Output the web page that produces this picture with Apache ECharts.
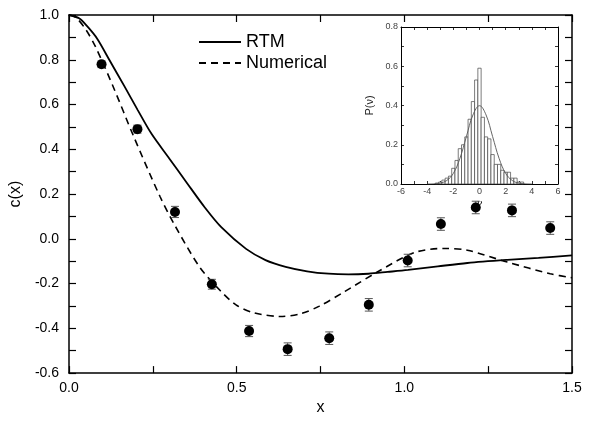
<!DOCTYPE html>
<html>
<head>
<meta charset="utf-8">
<script src="https://cdn.jsdelivr.net/npm/echarts@6/dist/echarts.min.js"></script>
<style>
html,body{margin:0;padding:0;background:#fff;}
#chart{width:595px;height:421px;}
</style>
</head>
<body>
<div id="chart"></div>
<script>
// ---- main chart data ----
const rtmX = [0, 0.03, 0.054, 0.084, 0.12, 0.165, 0.205, 0.246, 0.3, 0.35, 0.405, 0.454, 0.528, 0.586, 0.646, 0.71, 0.774, 0.833, 0.893, 0.95, 1.011, 1.1, 1.188, 1.307, 1.4, 1.5];
const rtmY = [1.0, 0.985, 0.95, 0.894, 0.80, 0.682, 0.575, 0.469, 0.357, 0.253, 0.14, 0.052, -0.045, -0.095, -0.125, -0.145, -0.156, -0.159, -0.156, -0.148, -0.139, -0.123, -0.108, -0.094, -0.085, -0.074];

const numX = [0, 0.02, 0.05, 0.08, 0.133, 0.192, 0.271, 0.316, 0.389, 0.45, 0.498, 0.55, 0.63, 0.69, 0.745, 0.823, 0.922, 1.031, 1.119, 1.188, 1.307, 1.435, 1.5];
const numY = [1.0, 0.99, 0.935, 0.855, 0.675, 0.46, 0.19, 0.059, -0.125, -0.23, -0.295, -0.33, -0.347, -0.335, -0.302, -0.235, -0.146, -0.061, -0.043, -0.051, -0.104, -0.156, -0.174];

const ptX = [0.097, 0.204, 0.316, 0.426, 0.537, 0.652, 0.776, 0.894, 1.010, 1.109, 1.213, 1.321, 1.435];
const ptY = [0.78, 0.49, 0.12, -0.203, -0.412, -0.493, -0.444, -0.295, -0.097, 0.066, 0.14, 0.127, 0.048];
const ptErr = [0.015, 0.018, 0.025, 0.022, 0.025, 0.028, 0.028, 0.028, 0.028, 0.028, 0.028, 0.028, 0.028];

// ---- inset histogram data ----
const binCenters = [-3.25, -3.0, -2.75, -2.5, -2.25, -2.0, -1.75, -1.5, -1.25, -1.0, -0.75, -0.5, -0.25, 0.0, 0.25, 0.5, 0.75, 1.0, 1.25, 1.5, 1.75, 2.0, 2.25, 2.5, 2.75, 3.0, 3.25];
const binHeights = [0.005, 0.01, 0.02, 0.03, 0.04, 0.08, 0.12, 0.18, 0.20, 0.24, 0.33, 0.42, 0.53, 0.59, 0.34, 0.24, 0.23, 0.15, 0.10, 0.10, 0.07, 0.06, 0.06, 0.03, 0.03, 0.01, 0.01];
const binWidth = 0.25;

const fitV = [-4, -3.5, -3, -2.5, -2, -1.5, -1, -0.5, 0, 0.5, 1, 1.5, 2, 2.5, 3, 3.5, 4];
const fitP = [0.0002, 0.001, 0.0045, 0.018, 0.054, 0.13, 0.242, 0.352, 0.399, 0.352, 0.242, 0.13, 0.054, 0.018, 0.0045, 0.001, 0.0002];

const mainXTicks = [0, 0.5, 1.0, 1.5];
const FONT = 'Liberation Sans, Arial, sans-serif';

const zip = (a, b) => a.map((v, i) => [v, b[i]]);

const chart = echarts.init(document.getElementById('chart'), null, {renderer: 'canvas'});

const axisLineMain = {show: true, onZero: false, lineStyle: {color: '#000', width: 1.5}};
const tickMain = {show: true, inside: true, length: 7, lineStyle: {color: '#000', width: 1.2}};
const axisLineIn = {show: true, onZero: false, lineStyle: {color: '#000', width: 1}};
const tickIn = {show: true, inside: true, length: 3, lineStyle: {color: '#000', width: 0.8}};

const option = {
  animation: false,
  backgroundColor: '#fff',
  grid: [
    {left: 65, right: 23, top: 15, bottom: 29},
    {left: 401, top: 27, width: 157, height: 157}
  ],
  legend: {
    orient: 'vertical',
    left: 193, top: 28,
    itemWidth: 42, itemHeight: 14, itemGap: 3,
    itemStyle: {opacity: 0, color: 'rgba(0,0,0,0)', borderWidth: 0},
    textStyle: {fontFamily: FONT, fontSize: 18, color: '#000'},
    data: ['RTM', 'Numerical']
  },
  xAxis: [
    {gridIndex: 0, type: 'value', position: 'bottom', min: 0, max: 1.5, interval: 0.25,
     axisLine: axisLineMain, axisTick: tickMain, splitLine: {show: false},
     axisLabel: {fontFamily: FONT, fontSize: 14, color: '#000', margin: 8,
       formatter: v => mainXTicks.some(t => Math.abs(t - v) < 1e-6) ? v.toFixed(1) : ''},
     name: 'x', nameLocation: 'middle', nameGap: 16,
     nameTextStyle: {fontFamily: FONT, fontSize: 16, color: '#000'}},
    {gridIndex: 0, type: 'value', position: 'top', min: 0, max: 1.5, interval: 0.25,
     axisLine: axisLineMain, axisTick: tickMain, splitLine: {show: false}, axisLabel: {show: false}},
    {gridIndex: 1, type: 'value', position: 'bottom', min: -6, max: 6, interval: 1,
     axisLine: axisLineIn, axisTick: tickIn, splitLine: {show: false},
     axisLabel: {fontFamily: FONT, fontSize: 9, color: '#444', margin: 3,
       formatter: v => (Math.round(v) % 2 === 0) ? String(Math.round(v)) : ''},
     name: 'ν', nameLocation: 'middle', nameGap: 15,
     nameTextStyle: {fontFamily: 'DejaVu Serif, serif', fontStyle: 'italic', fontSize: 9, color: '#000'}},
    {gridIndex: 1, type: 'value', position: 'top', min: -6, max: 6, interval: 1,
     axisLine: axisLineIn, axisTick: tickIn, splitLine: {show: false}, axisLabel: {show: false}}
  ],
  yAxis: [
    {gridIndex: 0, type: 'value', position: 'left', min: -0.6, max: 1.0, interval: 0.1,
     axisLine: axisLineMain, axisTick: tickMain, splitLine: {show: false},
     axisLabel: {fontFamily: FONT, fontSize: 14, color: '#000', margin: 10,
       formatter: v => (Math.abs(Math.round(v * 10)) % 2 === 0) ? v.toFixed(1) : ''},
     name: 'c(x)', nameLocation: 'middle', nameGap: 33,
     nameTextStyle: {fontFamily: FONT, fontSize: 16, color: '#000'}},
    {gridIndex: 0, type: 'value', position: 'right', min: -0.6, max: 1.0, interval: 0.1,
     axisLine: axisLineMain, axisTick: tickMain, splitLine: {show: false}, axisLabel: {show: false}},
    {gridIndex: 1, type: 'value', position: 'left', min: 0, max: 0.8, interval: 0.1,
     axisLine: axisLineIn, axisTick: tickIn, splitLine: {show: false},
     axisLabel: {fontFamily: FONT, fontSize: 9, color: '#444', margin: 3,
       formatter: v => (Math.round(v * 10) % 2 === 0) ? v.toFixed(1) : ''},
     name: 'P(ν)', nameLocation: 'middle', nameGap: 26,
     nameTextStyle: {fontFamily: FONT, fontSize: 11, color: '#222'}},
    {gridIndex: 1, type: 'value', position: 'right', min: 0, max: 0.8, interval: 0.1,
     axisLine: axisLineIn, axisTick: tickIn, splitLine: {show: false}, axisLabel: {show: false}}
  ],
  series: [
    {name: 'RTM', type: 'line', xAxisIndex: 0, yAxisIndex: 0, data: zip(rtmX, rtmY),
     smooth: 0.3, symbol: 'none', lineStyle: {color: '#000', width: 1.8, type: 'solid'},
     itemStyle: {color: '#000'}, z: 3},
    {name: 'Numerical', type: 'line', xAxisIndex: 0, yAxisIndex: 0, data: zip(numX, numY),
     smooth: 0.3, symbol: 'none', lineStyle: {color: '#000', width: 1.6, type: [7, 5]},
     itemStyle: {color: '#000'}, z: 3},
    {name: 'errors', type: 'custom', xAxisIndex: 0, yAxisIndex: 0,
     data: ptX.map((x, i) => [x, ptY[i] - ptErr[i], ptY[i] + ptErr[i]]),
     renderItem: (params, api) => {
       const lo = api.coord([api.value(0), api.value(1)]);
       const hi = api.coord([api.value(0), api.value(2)]);
       const hw = 4;
       const st = {stroke: '#555', lineWidth: 1};
       return {type: 'group', children: [
         {type: 'line', shape: {x1: lo[0], y1: lo[1], x2: hi[0], y2: hi[1]}, style: st},
         {type: 'line', shape: {x1: lo[0]-hw, y1: lo[1], x2: lo[0]+hw, y2: lo[1]}, style: st},
         {type: 'line', shape: {x1: hi[0]-hw, y1: hi[1], x2: hi[0]+hw, y2: hi[1]}, style: st}
       ]};
     }, z: 4},
    {name: 'data', type: 'scatter', xAxisIndex: 0, yAxisIndex: 0, data: zip(ptX, ptY),
     symbol: 'circle', symbolSize: 10, itemStyle: {color: '#000', opacity: 1}, z: 5},
    {name: 'hist', type: 'custom', xAxisIndex: 2, yAxisIndex: 2,
     data: zip(binCenters, binHeights),
     renderItem: (params, api) => {
       const c = api.value(0), h = api.value(1);
       const p0 = api.coord([c - binWidth / 2, 0]);
       const p1 = api.coord([c + binWidth / 2, h]);
       return {type: 'rect', shape: {x: p0[0], y: p1[1], width: p1[0] - p0[0], height: p0[1] - p1[1]},
         style: {fill: '#fff', stroke: '#444', lineWidth: 0.7}};
     }, z: 2},
    {name: 'fit', type: 'line', xAxisIndex: 2, yAxisIndex: 2, data: zip(fitV, fitP),
     smooth: 0.4, symbol: 'none', lineStyle: {color: '#555', width: 0.9}, z: 3}
  ]
};
chart.setOption(option);
</script>
</body>
</html>
